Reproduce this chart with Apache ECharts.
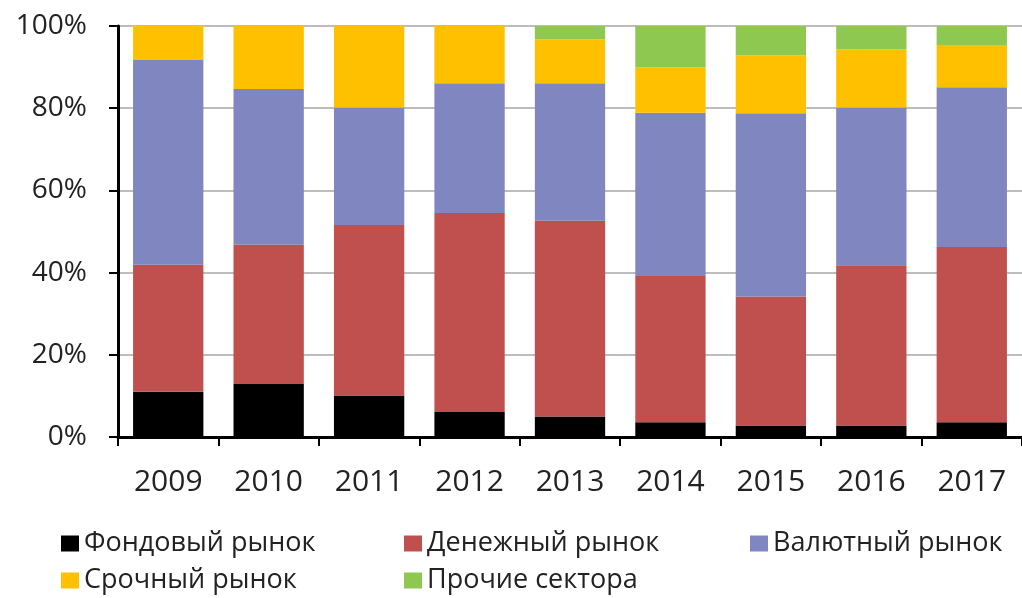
<!DOCTYPE html>
<html>
<head>
<meta charset="utf-8">
<script src="https://cdn.jsdelivr.net/npm/echarts@6/dist/echarts.min.js"></script>
<style>
    html, body { margin: 0; padding: 0; background: #fff; }
    #chart { width: 1022px; height: 598px; }
</style>
</head>
<body>
<div id="chart"></div>
<script>
// годы
const years = ['2009', '2010', '2011', '2012', '2013', '2014', '2015', '2016', '2017'];
// доли секторов, %
const stockMarket = [11.0, 12.9, 10.1, 6.1, 5.0, 3.6, 2.8, 2.8, 3.6];
const moneyMarket = [30.9, 33.9, 41.5, 48.4, 47.6, 35.6, 31.4, 39.0, 42.6];
const fxMarket = [49.8, 37.9, 28.6, 31.6, 33.5, 39.7, 44.6, 38.4, 38.9];
const derivMarket = [8.3, 15.3, 19.8, 13.9, 10.7, 11.0, 14.0, 14.1, 10.3];
const otherSectors = [0, 0, 0, 0, 3.2, 10.1, 7.2, 5.7, 4.6];

const names = ['Фондовый рынок', 'Денежный рынок', 'Валютный рынок', 'Срочный рынок', 'Прочие сектора'];
const colors = ['#000000', '#c0504d', '#7f86c0', '#ffc000', '#8fc850'];
const values = [stockMarket, moneyMarket, fxMarket, derivMarket, otherSectors];

const font = 'Open Sans';
const chart = echarts.init(document.getElementById('chart'));

// каждая подпись легенды ставится отдельно, как в оригинале (сетка 3 колонки)
const legendPos = [[56, 525], [399, 525], [745, 525], [56, 562], [399, 562]];
const legends = names.map(function (name, i) {
    return {
        left: legendPos[i][0],
        top: legendPos[i][1],
        icon: 'rect',
        itemWidth: 18,
        itemHeight: 16,
        selectedMode: false,
        data: [name],
        textStyle: { fontFamily: font, fontSize: 27, color: '#222' },
    };
});

const option = {
    animation: false,
    color: colors,
    grid: { left: 118, top: 26, width: 915, height: 411 },
    legend: legends,
    xAxis: {
        type: 'category',
        data: years,
        axisLine: { lineStyle: { color: '#000', width: 3 } },
        axisTick: { show: true, length: 9, lineStyle: { color: '#000', width: 2 } },
        axisLabel: { fontFamily: font, fontSize: 30, color: '#222', margin: 30 },
    },
    yAxis: {
        type: 'value',
        min: 0,
        max: 100,
        interval: 20,
        axisLine: { show: true, lineStyle: { color: '#000', width: 3 } },
        axisTick: { show: true, length: 9, lineStyle: { color: '#000', width: 2 } },
        axisLabel: { fontFamily: font, fontSize: 28, color: '#222', margin: 31, formatter: '{value}%' },
        splitLine: { lineStyle: { color: '#bdbdbd', width: 2 } },
    },
    series: names.map(function (name, i) {
        return {
            name: name,
            type: 'bar',
            stack: 'total',
            barCategoryGap: '30%',
            data: values[i],
        };
    }),
};
chart.setOption(option);
</script>
</body>
</html>
